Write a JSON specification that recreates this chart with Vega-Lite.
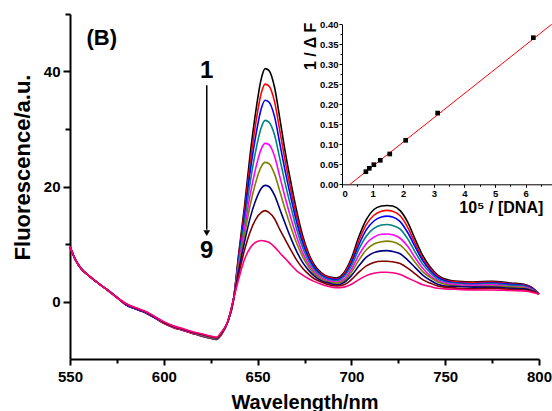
{
"$schema": "https://vega.github.io/schema/vega-lite/v6.json",
"width": 469, "height": 345,
"autosize": {"type": "none"},
"padding": {"left": 70, "top": 14, "right": 13, "bottom": 52},
"background": "white",
"config": {"view": {"stroke": null}, "font": "Liberation Sans",
  "axis": {"grid": false, "labelFont": "Liberation Sans", "labelFontWeight": "bold", "titleFont": "Liberation Sans", "titleFontWeight": "bold", "domainColor": "black", "tickColor": "black", "labelColor": "black", "titleColor": "black"}},
"layer": [
 {"layer": [
  {"data": {"values": [
{"w":550,"c":1,"f":9.5},{"w":550,"c":2,"f":9.5},{"w":550,"c":3,"f":9.5},{"w":550,"c":4,"f":9.5},{"w":550,"c":5,"f":9.5},{"w":550,"c":6,"f":9.5},{"w":550,"c":7,"f":9.5},{"w":550,"c":8,"f":9.5},{"w":550,"c":9,"f":9.5},
{"w":553,"c":1,"f":7.2},{"w":553,"c":2,"f":7.2},{"w":553,"c":3,"f":7.2},{"w":553,"c":4,"f":7.2},{"w":553,"c":5,"f":7.2},{"w":553,"c":6,"f":7.2},{"w":553,"c":7,"f":7.2},{"w":553,"c":8,"f":7.2},{"w":553,"c":9,"f":7.2},
{"w":556,"c":1,"f":5.7},{"w":556,"c":2,"f":5.7},{"w":556,"c":3,"f":5.7},{"w":556,"c":4,"f":5.7},{"w":556,"c":5,"f":5.7},{"w":556,"c":6,"f":5.7},{"w":556,"c":7,"f":5.7},{"w":556,"c":8,"f":5.7},{"w":556,"c":9,"f":5.7},
{"w":560,"c":1,"f":4.5},{"w":560,"c":2,"f":4.5},{"w":560,"c":3,"f":4.5},{"w":560,"c":4,"f":4.5},{"w":560,"c":5,"f":4.5},{"w":560,"c":6,"f":4.5},{"w":560,"c":7,"f":4.5},{"w":560,"c":8,"f":4.5},{"w":560,"c":9,"f":4.5},
{"w":565,"c":1,"f":3.2},{"w":565,"c":2,"f":3.2},{"w":565,"c":3,"f":3.2},{"w":565,"c":4,"f":3.2},{"w":565,"c":5,"f":3.2},{"w":565,"c":6,"f":3.2},{"w":565,"c":7,"f":3.2},{"w":565,"c":8,"f":3.2},{"w":565,"c":9,"f":3.2},
{"w":570,"c":1,"f":2.0},{"w":570,"c":2,"f":2.0},{"w":570,"c":3,"f":2.0},{"w":570,"c":4,"f":2.0},{"w":570,"c":5,"f":2.0},{"w":570,"c":6,"f":2.0},{"w":570,"c":7,"f":2.0},{"w":570,"c":8,"f":2.0},{"w":570,"c":9,"f":2.0},
{"w":575,"c":1,"f":0.7},{"w":575,"c":2,"f":0.7},{"w":575,"c":3,"f":0.7},{"w":575,"c":4,"f":0.7},{"w":575,"c":5,"f":0.7},{"w":575,"c":6,"f":0.7},{"w":575,"c":7,"f":0.7},{"w":575,"c":8,"f":0.7},{"w":575,"c":9,"f":0.7},
{"w":580,"c":1,"f":-0.6},{"w":580,"c":2,"f":-0.6},{"w":580,"c":3,"f":-0.6},{"w":580,"c":4,"f":-0.5},{"w":580,"c":5,"f":-0.5},{"w":580,"c":6,"f":-0.5},{"w":580,"c":7,"f":-0.5},{"w":580,"c":8,"f":-0.4},{"w":580,"c":9,"f":-0.4},
{"w":585,"c":1,"f":-1.3},{"w":585,"c":2,"f":-1.3},{"w":585,"c":3,"f":-1.3},{"w":585,"c":4,"f":-1.2},{"w":585,"c":5,"f":-1.2},{"w":585,"c":6,"f":-1.2},{"w":585,"c":7,"f":-1.2},{"w":585,"c":8,"f":-1.1},{"w":585,"c":9,"f":-1.1},
{"w":590,"c":1,"f":-1.9},{"w":590,"c":2,"f":-1.9},{"w":590,"c":3,"f":-1.9},{"w":590,"c":4,"f":-1.8},{"w":590,"c":5,"f":-1.8},{"w":590,"c":6,"f":-1.8},{"w":590,"c":7,"f":-1.8},{"w":590,"c":8,"f":-1.7},{"w":590,"c":9,"f":-1.7},
{"w":595,"c":1,"f":-2.8},{"w":595,"c":2,"f":-2.8},{"w":595,"c":3,"f":-2.8},{"w":595,"c":4,"f":-2.7},{"w":595,"c":5,"f":-2.7},{"w":595,"c":6,"f":-2.7},{"w":595,"c":7,"f":-2.7},{"w":595,"c":8,"f":-2.6},{"w":595,"c":9,"f":-2.6},
{"w":600,"c":1,"f":-3.8},{"w":600,"c":2,"f":-3.8},{"w":600,"c":3,"f":-3.7},{"w":600,"c":4,"f":-3.7},{"w":600,"c":5,"f":-3.7},{"w":600,"c":6,"f":-3.6},{"w":600,"c":7,"f":-3.6},{"w":600,"c":8,"f":-3.6},{"w":600,"c":9,"f":-3.5},
{"w":605,"c":1,"f":-4.5},{"w":605,"c":2,"f":-4.5},{"w":605,"c":3,"f":-4.4},{"w":605,"c":4,"f":-4.4},{"w":605,"c":5,"f":-4.4},{"w":605,"c":6,"f":-4.3},{"w":605,"c":7,"f":-4.3},{"w":605,"c":8,"f":-4.3},{"w":605,"c":9,"f":-4.2},
{"w":610,"c":1,"f":-5.0},{"w":610,"c":2,"f":-5.0},{"w":610,"c":3,"f":-4.9},{"w":610,"c":4,"f":-4.9},{"w":610,"c":5,"f":-4.9},{"w":610,"c":6,"f":-4.8},{"w":610,"c":7,"f":-4.8},{"w":610,"c":8,"f":-4.8},{"w":610,"c":9,"f":-4.7},
{"w":615,"c":1,"f":-5.5},{"w":615,"c":2,"f":-5.5},{"w":615,"c":3,"f":-5.4},{"w":615,"c":4,"f":-5.4},{"w":615,"c":5,"f":-5.4},{"w":615,"c":6,"f":-5.3},{"w":615,"c":7,"f":-5.3},{"w":615,"c":8,"f":-5.3},{"w":615,"c":9,"f":-5.2},
{"w":620,"c":1,"f":-6.0},{"w":620,"c":2,"f":-6.0},{"w":620,"c":3,"f":-5.9},{"w":620,"c":4,"f":-5.9},{"w":620,"c":5,"f":-5.8},{"w":620,"c":6,"f":-5.8},{"w":620,"c":7,"f":-5.7},{"w":620,"c":8,"f":-5.7},{"w":620,"c":9,"f":-5.6},
{"w":625,"c":1,"f":-6.4},{"w":625,"c":2,"f":-6.4},{"w":625,"c":3,"f":-6.3},{"w":625,"c":4,"f":-6.3},{"w":625,"c":5,"f":-6.2},{"w":625,"c":6,"f":-6.2},{"w":625,"c":7,"f":-6.1},{"w":625,"c":8,"f":-6.1},{"w":625,"c":9,"f":-6.0},
{"w":628,"c":1,"f":-6.6},{"w":628,"c":2,"f":-6.6},{"w":628,"c":3,"f":-6.5},{"w":628,"c":4,"f":-6.5},{"w":628,"c":5,"f":-6.4},{"w":628,"c":6,"f":-6.4},{"w":628,"c":7,"f":-6.3},{"w":628,"c":8,"f":-6.3},{"w":628,"c":9,"f":-6.2},
{"w":631,"c":1,"f":-5.6},{"w":631,"c":2,"f":-5.6},{"w":631,"c":3,"f":-5.5},{"w":631,"c":4,"f":-5.5},{"w":631,"c":5,"f":-5.4},{"w":631,"c":6,"f":-5.4},{"w":631,"c":7,"f":-5.3},{"w":631,"c":8,"f":-5.3},{"w":631,"c":9,"f":-5.2},
{"w":634,"c":1,"f":-3.6},{"w":634,"c":2,"f":-3.6},{"w":634,"c":3,"f":-3.6},{"w":634,"c":4,"f":-3.6},{"w":634,"c":5,"f":-3.6},{"w":634,"c":6,"f":-3.6},{"w":634,"c":7,"f":-3.6},{"w":634,"c":8,"f":-3.6},{"w":634,"c":9,"f":-3.6},
{"w":637,"c":1,"f":0.0},{"w":637,"c":2,"f":0.0},{"w":637,"c":3,"f":0.0},{"w":637,"c":4,"f":0.1},{"w":637,"c":5,"f":0.1},{"w":637,"c":6,"f":0.1},{"w":637,"c":7,"f":0.1},{"w":637,"c":8,"f":0.2},{"w":637,"c":9,"f":0.2},
{"w":640,"c":1,"f":8.5},{"w":640,"c":2,"f":8.1},{"w":640,"c":3,"f":7.7},{"w":640,"c":4,"f":7.2},{"w":640,"c":5,"f":6.6},{"w":640,"c":6,"f":6.1},{"w":640,"c":7,"f":5.5},{"w":640,"c":8,"f":4.8},{"w":640,"c":9,"f":4.0},
{"w":643,"c":1,"f":16.5},{"w":643,"c":2,"f":15.7},{"w":643,"c":3,"f":14.8},{"w":643,"c":4,"f":13.7},{"w":643,"c":5,"f":12.5},{"w":643,"c":6,"f":11.5},{"w":643,"c":7,"f":10.3},{"w":643,"c":8,"f":8.9},{"w":643,"c":9,"f":7.3},
{"w":646,"c":1,"f":25.5},{"w":646,"c":2,"f":24.0},{"w":646,"c":3,"f":22.5},{"w":646,"c":4,"f":20.6},{"w":646,"c":5,"f":18.5},{"w":646,"c":6,"f":16.7},{"w":646,"c":7,"f":14.5},{"w":646,"c":8,"f":12.1},{"w":646,"c":9,"f":9.3},
{"w":649,"c":1,"f":33.0},{"w":649,"c":2,"f":31.0},{"w":649,"c":3,"f":28.8},{"w":649,"c":4,"f":26.2},{"w":649,"c":5,"f":23.2},{"w":649,"c":6,"f":20.7},{"w":649,"c":7,"f":17.6},{"w":649,"c":8,"f":14.3},{"w":649,"c":9,"f":10.3},
{"w":652,"c":1,"f":38.8},{"w":652,"c":2,"f":36.3},{"w":652,"c":3,"f":33.6},{"w":652,"c":4,"f":30.3},{"w":652,"c":5,"f":26.6},{"w":652,"c":6,"f":23.5},{"w":652,"c":7,"f":19.7},{"w":652,"c":8,"f":15.5},{"w":652,"c":9,"f":10.6},
{"w":654,"c":1,"f":40.5},{"w":654,"c":2,"f":37.8},{"w":654,"c":3,"f":35.0},{"w":654,"c":4,"f":31.5},{"w":654,"c":5,"f":27.5},{"w":654,"c":6,"f":24.2},{"w":654,"c":7,"f":20.2},{"w":654,"c":8,"f":15.8},{"w":654,"c":9,"f":10.5},
{"w":656,"c":1,"f":40.2},{"w":656,"c":2,"f":37.5},{"w":656,"c":3,"f":34.7},{"w":656,"c":4,"f":31.2},{"w":656,"c":5,"f":27.3},{"w":656,"c":6,"f":24.0},{"w":656,"c":7,"f":20.0},{"w":656,"c":8,"f":15.5},{"w":656,"c":9,"f":10.3},
{"w":659,"c":1,"f":37.3},{"w":659,"c":2,"f":34.8},{"w":659,"c":3,"f":32.2},{"w":659,"c":4,"f":29.0},{"w":659,"c":5,"f":25.3},{"w":659,"c":6,"f":22.2},{"w":659,"c":7,"f":18.5},{"w":659,"c":8,"f":14.4},{"w":659,"c":9,"f":9.5},
{"w":662,"c":1,"f":31.5},{"w":662,"c":2,"f":29.4},{"w":662,"c":3,"f":27.2},{"w":662,"c":4,"f":24.6},{"w":662,"c":5,"f":21.5},{"w":662,"c":6,"f":19.0},{"w":662,"c":7,"f":15.9},{"w":662,"c":8,"f":12.4},{"w":662,"c":9,"f":8.4},
{"w":665,"c":1,"f":25.5},{"w":665,"c":2,"f":23.9},{"w":665,"c":3,"f":22.2},{"w":665,"c":4,"f":20.1},{"w":665,"c":5,"f":17.7},{"w":665,"c":6,"f":15.7},{"w":665,"c":7,"f":13.3},{"w":665,"c":8,"f":10.6},{"w":665,"c":9,"f":7.4},
{"w":668,"c":1,"f":20.3},{"w":668,"c":2,"f":19.0},{"w":668,"c":3,"f":17.7},{"w":668,"c":4,"f":16.1},{"w":668,"c":5,"f":14.2},{"w":668,"c":6,"f":12.7},{"w":668,"c":7,"f":10.8},{"w":668,"c":8,"f":8.8},{"w":668,"c":9,"f":6.3},
{"w":671,"c":1,"f":15.5},{"w":671,"c":2,"f":14.6},{"w":671,"c":3,"f":13.6},{"w":671,"c":4,"f":12.4},{"w":671,"c":5,"f":11.1},{"w":671,"c":6,"f":10.0},{"w":671,"c":7,"f":8.6},{"w":671,"c":8,"f":7.1},{"w":671,"c":9,"f":5.3},
{"w":674,"c":1,"f":11.5},{"w":674,"c":2,"f":10.9},{"w":674,"c":3,"f":10.2},{"w":674,"c":4,"f":9.4},{"w":674,"c":5,"f":8.5},{"w":674,"c":6,"f":7.8},{"w":674,"c":7,"f":6.8},{"w":674,"c":8,"f":5.8},{"w":674,"c":9,"f":4.6},
{"w":677,"c":1,"f":8.5},{"w":677,"c":2,"f":8.1},{"w":677,"c":3,"f":7.7},{"w":677,"c":4,"f":7.2},{"w":677,"c":5,"f":6.6},{"w":677,"c":6,"f":6.1},{"w":677,"c":7,"f":5.5},{"w":677,"c":8,"f":4.8},{"w":677,"c":9,"f":4.0},
{"w":680,"c":1,"f":6.5},{"w":680,"c":2,"f":6.2},{"w":680,"c":3,"f":6.0},{"w":680,"c":4,"f":5.6},{"w":680,"c":5,"f":5.2},{"w":680,"c":6,"f":4.9},{"w":680,"c":7,"f":4.5},{"w":680,"c":8,"f":4.0},{"w":680,"c":9,"f":3.5},
{"w":684,"c":1,"f":5.0},{"w":684,"c":2,"f":4.8},{"w":684,"c":3,"f":4.6},{"w":684,"c":4,"f":4.4},{"w":684,"c":5,"f":4.1},{"w":684,"c":6,"f":3.9},{"w":684,"c":7,"f":3.6},{"w":684,"c":8,"f":3.4},{"w":684,"c":9,"f":3.0},
{"w":688,"c":1,"f":4.3},{"w":688,"c":2,"f":4.2},{"w":688,"c":3,"f":4.0},{"w":688,"c":4,"f":3.8},{"w":688,"c":5,"f":3.6},{"w":688,"c":6,"f":3.4},{"w":688,"c":7,"f":3.2},{"w":688,"c":8,"f":2.9},{"w":688,"c":9,"f":2.6},
{"w":692,"c":1,"f":4.1},{"w":692,"c":2,"f":3.9},{"w":692,"c":3,"f":3.8},{"w":692,"c":4,"f":3.6},{"w":692,"c":5,"f":3.4},{"w":692,"c":6,"f":3.2},{"w":692,"c":7,"f":2.9},{"w":692,"c":8,"f":2.7},{"w":692,"c":9,"f":2.4},
{"w":696,"c":1,"f":5.0},{"w":696,"c":2,"f":4.8},{"w":696,"c":3,"f":4.5},{"w":696,"c":4,"f":4.3},{"w":696,"c":5,"f":3.9},{"w":696,"c":6,"f":3.6},{"w":696,"c":7,"f":3.3},{"w":696,"c":8,"f":2.9},{"w":696,"c":9,"f":2.5},
{"w":700,"c":1,"f":7.5},{"w":700,"c":2,"f":7.1},{"w":700,"c":3,"f":6.7},{"w":700,"c":4,"f":6.2},{"w":700,"c":5,"f":5.6},{"w":700,"c":6,"f":5.1},{"w":700,"c":7,"f":4.5},{"w":700,"c":8,"f":3.8},{"w":700,"c":9,"f":3.0},
{"w":704,"c":1,"f":11.3},{"w":704,"c":2,"f":10.6},{"w":704,"c":3,"f":9.9},{"w":704,"c":4,"f":9.1},{"w":704,"c":5,"f":8.1},{"w":704,"c":6,"f":7.2},{"w":704,"c":7,"f":6.2},{"w":704,"c":8,"f":5.1},{"w":704,"c":9,"f":3.8},
{"w":708,"c":1,"f":14.3},{"w":708,"c":2,"f":13.4},{"w":708,"c":3,"f":12.5},{"w":708,"c":4,"f":11.4},{"w":708,"c":5,"f":10.1},{"w":708,"c":6,"f":9.0},{"w":708,"c":7,"f":7.7},{"w":708,"c":8,"f":6.2},{"w":708,"c":9,"f":4.5},
{"w":712,"c":1,"f":16.0},{"w":712,"c":2,"f":15.0},{"w":712,"c":3,"f":14.0},{"w":712,"c":4,"f":12.7},{"w":712,"c":5,"f":11.2},{"w":712,"c":6,"f":10.0},{"w":712,"c":7,"f":8.5},{"w":712,"c":8,"f":6.8},{"w":712,"c":9,"f":4.9},
{"w":716,"c":1,"f":16.6},{"w":716,"c":2,"f":15.7},{"w":716,"c":3,"f":14.7},{"w":716,"c":4,"f":13.3},{"w":716,"c":5,"f":11.7},{"w":716,"c":6,"f":10.4},{"w":716,"c":7,"f":8.8},{"w":716,"c":8,"f":7.0},{"w":716,"c":9,"f":5.1},
{"w":719,"c":1,"f":16.7},{"w":719,"c":2,"f":15.85},{"w":719,"c":3,"f":14.85},{"w":719,"c":4,"f":13.4},{"w":719,"c":5,"f":11.75},{"w":719,"c":6,"f":10.5},{"w":719,"c":7,"f":8.85},{"w":719,"c":8,"f":7.0},{"w":719,"c":9,"f":5.1},
{"w":722,"c":1,"f":16.6},{"w":722,"c":2,"f":15.7},{"w":722,"c":3,"f":14.7},{"w":722,"c":4,"f":13.2},{"w":722,"c":5,"f":11.6},{"w":722,"c":6,"f":10.4},{"w":722,"c":7,"f":8.7},{"w":722,"c":8,"f":6.9},{"w":722,"c":9,"f":5.0},
{"w":726,"c":1,"f":15.8},{"w":726,"c":2,"f":14.9},{"w":726,"c":3,"f":13.9},{"w":726,"c":4,"f":12.6},{"w":726,"c":5,"f":11.0},{"w":726,"c":6,"f":9.8},{"w":726,"c":7,"f":8.3},{"w":726,"c":8,"f":6.6},{"w":726,"c":9,"f":4.7},
{"w":730,"c":1,"f":13.8},{"w":730,"c":2,"f":12.9},{"w":730,"c":3,"f":12.0},{"w":730,"c":4,"f":10.9},{"w":730,"c":5,"f":9.6},{"w":730,"c":6,"f":8.5},{"w":730,"c":7,"f":7.2},{"w":730,"c":8,"f":5.8},{"w":730,"c":9,"f":4.1},
{"w":734,"c":1,"f":10.8},{"w":734,"c":2,"f":10.1},{"w":734,"c":3,"f":9.5},{"w":734,"c":4,"f":8.6},{"w":734,"c":5,"f":7.6},{"w":734,"c":6,"f":6.8},{"w":734,"c":7,"f":5.9},{"w":734,"c":8,"f":4.8},{"w":734,"c":9,"f":3.5},
{"w":738,"c":1,"f":8.0},{"w":738,"c":2,"f":7.5},{"w":738,"c":3,"f":7.1},{"w":738,"c":4,"f":6.5},{"w":738,"c":5,"f":5.8},{"w":738,"c":6,"f":5.2},{"w":738,"c":7,"f":4.6},{"w":738,"c":8,"f":3.8},{"w":738,"c":9,"f":2.9},
{"w":742,"c":1,"f":6.0},{"w":742,"c":2,"f":5.7},{"w":742,"c":3,"f":5.4},{"w":742,"c":4,"f":5.0},{"w":742,"c":5,"f":4.5},{"w":742,"c":6,"f":4.2},{"w":742,"c":7,"f":3.7},{"w":742,"c":8,"f":3.2},{"w":742,"c":9,"f":2.6},
{"w":746,"c":1,"f":4.6},{"w":746,"c":2,"f":4.4},{"w":746,"c":3,"f":4.2},{"w":746,"c":4,"f":3.9},{"w":746,"c":5,"f":3.6},{"w":746,"c":6,"f":3.4},{"w":746,"c":7,"f":3.0},{"w":746,"c":8,"f":2.7},{"w":746,"c":9,"f":2.3},
{"w":750,"c":1,"f":3.9},{"w":750,"c":2,"f":3.7},{"w":750,"c":3,"f":3.6},{"w":750,"c":4,"f":3.4},{"w":750,"c":5,"f":3.2},{"w":750,"c":6,"f":3.0},{"w":750,"c":7,"f":2.7},{"w":750,"c":8,"f":2.5},{"w":750,"c":9,"f":2.2},
{"w":757,"c":1,"f":3.5},{"w":757,"c":2,"f":3.4},{"w":757,"c":3,"f":3.2},{"w":757,"c":4,"f":3.1},{"w":757,"c":5,"f":2.9},{"w":757,"c":6,"f":2.7},{"w":757,"c":7,"f":2.6},{"w":757,"c":8,"f":2.3},{"w":757,"c":9,"f":2.1},
{"w":765,"c":1,"f":3.4},{"w":765,"c":2,"f":3.3},{"w":765,"c":3,"f":3.1},{"w":765,"c":4,"f":3.0},{"w":765,"c":5,"f":2.8},{"w":765,"c":6,"f":2.6},{"w":765,"c":7,"f":2.5},{"w":765,"c":8,"f":2.2},{"w":765,"c":9,"f":2.0},
{"w":775,"c":1,"f":3.5},{"w":775,"c":2,"f":3.4},{"w":775,"c":3,"f":3.2},{"w":775,"c":4,"f":3.1},{"w":775,"c":5,"f":2.9},{"w":775,"c":6,"f":2.7},{"w":775,"c":7,"f":2.5},{"w":775,"c":8,"f":2.3},{"w":775,"c":9,"f":2.0},
{"w":785,"c":1,"f":3.2},{"w":785,"c":2,"f":3.1},{"w":785,"c":3,"f":3.0},{"w":785,"c":4,"f":2.8},{"w":785,"c":5,"f":2.6},{"w":785,"c":6,"f":2.5},{"w":785,"c":7,"f":2.3},{"w":785,"c":8,"f":2.1},{"w":785,"c":9,"f":1.9},
{"w":792,"c":1,"f":3.0},{"w":792,"c":2,"f":2.9},{"w":792,"c":3,"f":2.8},{"w":792,"c":4,"f":2.7},{"w":792,"c":5,"f":2.5},{"w":792,"c":6,"f":2.4},{"w":792,"c":7,"f":2.2},{"w":792,"c":8,"f":2.0},{"w":792,"c":9,"f":1.85},
{"w":796,"c":1,"f":2.5},{"w":796,"c":2,"f":2.4},{"w":796,"c":3,"f":2.3},{"w":796,"c":4,"f":2.2},{"w":796,"c":5,"f":2.1},{"w":796,"c":6,"f":2.0},{"w":796,"c":7,"f":1.9},{"w":796,"c":8,"f":1.8},{"w":796,"c":9,"f":1.6},
{"w":800,"c":1,"f":1.3},{"w":800,"c":2,"f":1.3},{"w":800,"c":3,"f":1.3},{"w":800,"c":4,"f":1.3},{"w":800,"c":5,"f":1.3},{"w":800,"c":6,"f":1.3},{"w":800,"c":7,"f":1.3},{"w":800,"c":8,"f":1.3},{"w":800,"c":9,"f":1.3}
  ]},
  "mark": {"type": "line", "interpolate": "monotone", "strokeWidth": 1.6},
  "encoding": {
   "x": {"field": "w", "type": "quantitative", "scale": {"domain": [550, 800], "nice": false, "zero": false},
     "axis": {"orient": "bottom", "values": [550,600,650,700,750,800], "ticks": true, "domain": true, "labelFlush": false, "tickSize": 6, "labelFontSize": 15, "labelPadding": 4, "domainWidth": 2, "tickWidth": 2, "title": "Wavelength/nm", "titleFontSize": 20, "titleBaseline": "alphabetic", "titleAlign": "center", "titleX": 234.5, "titleY": 49}},
   "y": {"field": "f", "type": "quantitative", "scale": {"domain": [-10, 50], "nice": false, "zero": false},
     "axis": {"orient": "left", "values": [0,20,40], "ticks": true, "domain": true, "tickSize": 7, "labelFontSize": 15, "labelPadding": 3, "domainWidth": 2, "tickWidth": 2, "title": "Fluorescence/a.u.", "titleFontSize": 22, "titleBaseline": "alphabetic", "titleAlign": "center", "titleAngle": -90, "titleX": -41, "titleY": 153}},
   "color": {"field": "c", "type": "nominal", "legend": null, "scale": {"domain": [1,2,3,4,5,6,7,8,9], "range": ["#000000","#FF0000","#0000FF","#008080","#FF00FF","#808000","#000080","#800000","#FF0080"]}}
  }},
  {"data": {"values": [{"w": 622.9, "f1": 37.6, "f2": 12.5}]},
   "mark": {"type": "rule", "color": "black", "strokeWidth": 1.5},
   "encoding": {"x": {"field": "w", "type": "quantitative"}, "y": {"field": "f1", "type": "quantitative"}, "y2": {"field": "f2"}}},
  {"data": {"values": [{"w": 622.9, "f": 11.9}]},
   "mark": {"type": "point", "shape": "triangle-down", "filled": true, "color": "black", "size": 45, "opacity": 1},
   "encoding": {"x": {"field": "w", "type": "quantitative"}, "y": {"field": "f", "type": "quantitative"}}},
  {"data": {"values": [{"w": 622.9, "f": 40.1, "t": "1"}, {"w": 622.9, "f": 8.7, "t": "9"}]},
   "mark": {"type": "text", "font": "Liberation Sans", "fontWeight": "bold", "fontSize": 24, "baseline": "middle", "align": "center", "color": "black"},
   "encoding": {"x": {"field": "w", "type": "quantitative"}, "y": {"field": "f", "type": "quantitative"}, "text": {"field": "t"}}}
 ]},
 {"data": {"values": [{"w": 566.9, "f": 45.8, "t": "(B)"}]},
  "mark": {"type": "text", "font": "Liberation Sans", "fontWeight": "bold", "fontSize": 22, "baseline": "middle", "align": "center", "color": "black"},
  "encoding": {
   "x": {"field": "w", "type": "quantitative", "scale": {"domain": [550, 800], "nice": false, "zero": false},
     "axis": {"orient": "bottom", "values": [575,625,675,725,775], "labels": false, "domain": false, "ticks": true, "tickSize": 4, "tickWidth": 2, "title": null}},
   "y": {"field": "f", "type": "quantitative", "scale": {"domain": [-10, 50], "nice": false, "zero": false},
     "axis": {"orient": "left", "values": [10,30,50], "labels": false, "domain": false, "ticks": true, "tickSize": 5, "tickWidth": 2, "title": null}},
   "text": {"field": "t"}}},
 {"data": {"values": [{"x": 0.26, "y": 0}, {"x": 6.85, "y": 0.4}]},
  "mark": {"type": "line", "color": "#FF0000", "strokeWidth": 1},
  "encoding": {
   "x": {"field": "x", "type": "quantitative", "scale": {"domain": [0, 6.85], "range": [272, 481.7], "nice": false, "zero": false},
     "axis": {"orient": "bottom", "offset": -174.7, "values": [0,1,2,3,4,5,6], "format": "d", "ticks": true, "domain": true, "tickSize": 3, "labelFontSize": 9.5, "labelPadding": 1, "domainWidth": 1, "tickWidth": 1, "title": "10⁵ / [DNA]", "titleFontSize": 16, "titleBaseline": "alphabetic", "titleAlign": "center", "titleX": 430.8, "titleY": 27.7}},
   "y": {"field": "y", "type": "quantitative", "scale": {"domain": [0, 0.4], "range": [170.3, 10.3], "nice": false, "zero": false},
     "axis": {"orient": "left", "offset": -272, "values": [0,0.05,0.1,0.15,0.2,0.25,0.3,0.35,0.4], "format": ".2f", "ticks": true, "domain": true, "tickSize": 3, "labelFontSize": 9.5, "labelPadding": 1, "domainWidth": 1, "tickWidth": 1, "title": "1 / Δ F", "titleFontSize": 16, "titleBaseline": "alphabetic", "titleAlign": "center", "titleAngle": -90, "titleX": -26.3, "titleY": 31.8}}
  }},
 {"data": {"values": [{"x": 0.78, "y": 0.0315}, {"x": 0.89, "y": 0.040}, {"x": 1.04, "y": 0.049}, {"x": 1.25, "y": 0.060}, {"x": 1.56, "y": 0.0758}, {"x": 2.08, "y": 0.110}, {"x": 3.125, "y": 0.178}, {"x": 6.25, "y": 0.3665}]},
  "mark": {"type": "point", "shape": "square", "filled": true, "color": "black", "size": 22, "opacity": 1},
  "encoding": {
   "x": {"field": "x", "type": "quantitative", "scale": {"domain": [0, 6.85], "range": [272, 481.7], "nice": false, "zero": false},
     "axis": {"orient": "bottom", "offset": -174.7, "values": [0.5,1.5,2.5,3.5,4.5,5.5,6.5], "labels": false, "domain": false, "ticks": true, "tickSize": 2, "tickWidth": 1, "title": null}},
   "y": {"field": "y", "type": "quantitative", "scale": {"domain": [0, 0.4], "range": [170.3, 10.3], "nice": false, "zero": false},
     "axis": {"orient": "left", "offset": -272, "values": [0.025,0.075,0.125,0.175,0.225,0.275,0.325,0.375], "labels": false, "domain": false, "ticks": true, "tickSize": 2, "tickWidth": 1, "title": null}}
  }}
],
"resolve": {"scale": {"x": "independent", "y": "independent"}, "axis": {"x": "independent", "y": "independent"}}
}
